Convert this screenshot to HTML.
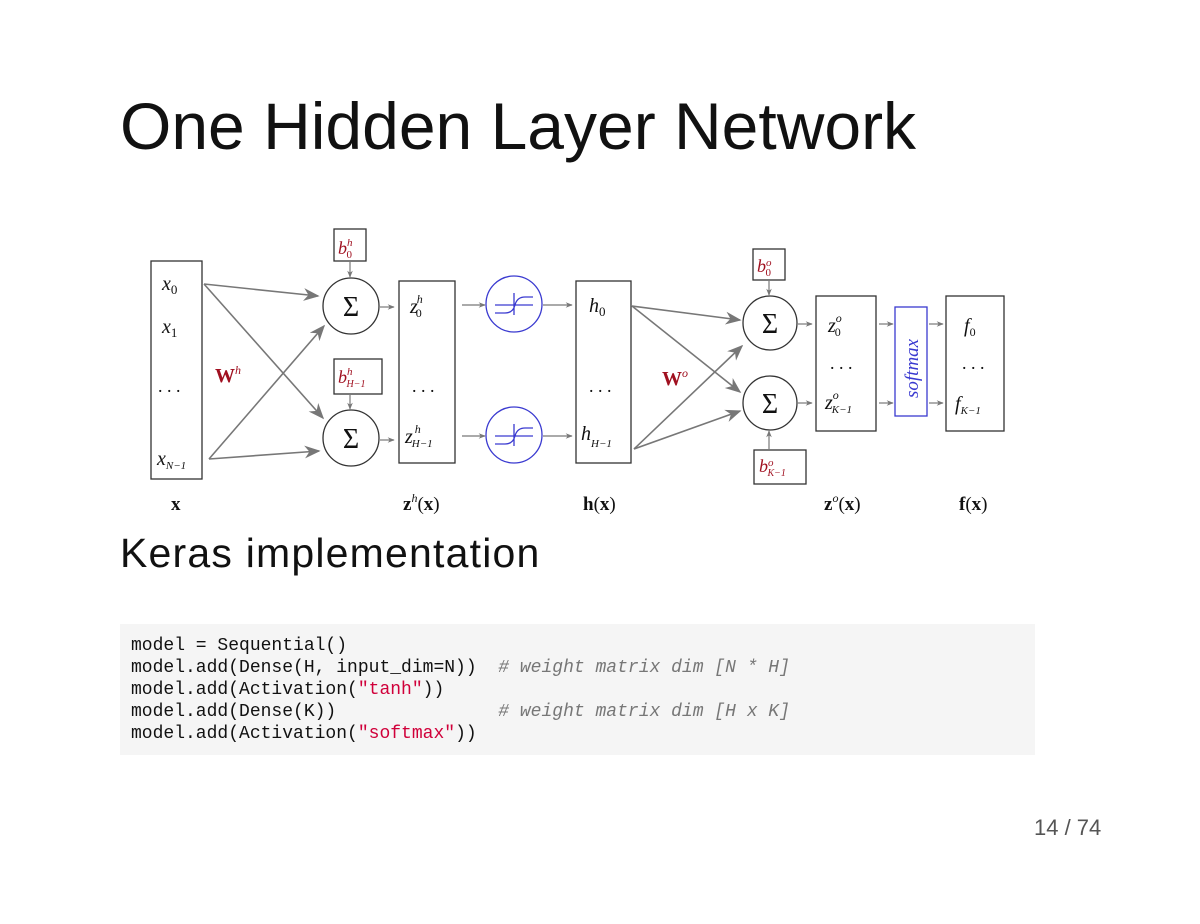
<!DOCTYPE html>
<html><head><meta charset="utf-8"><style>
body{margin:0;width:1200px;height:924px;background:#fff;position:relative;overflow:hidden;font-family:"Liberation Sans",sans-serif}
.t{position:absolute;left:120px;top:88px;font-size:66px;color:#111;letter-spacing:0px;white-space:nowrap}
.k{position:absolute;left:120px;top:530px;font-size:41px;color:#111;letter-spacing:1.2px;white-space:nowrap}
.code{position:absolute;left:120px;top:624px;width:915px;height:131px;background:#f5f5f5}
pre{margin:0;position:absolute;left:11px;top:11px;font-family:"Liberation Mono",monospace;font-size:18px;line-height:22px;color:#111}
.s{color:#d0003a}.c{color:#777;font-style:italic}
.pg{position:absolute;left:1034px;top:815px;font-size:22px;color:#555}
svg{position:absolute;left:0;top:0}
svg text{font-family:"Liberation Serif",serif}
</style></head><body>
<div class="t">One Hidden Layer Network</div>
<svg width="1200" height="924">
<defs>
<marker id="a2" viewBox="0 0 10 10" refX="9" refY="5" markerWidth="16" markerHeight="16" markerUnits="userSpaceOnUse" orient="auto"><path d="M0,1 L10,5 L0,9 L3,5z" fill="#777"/></marker>
<marker id="b" viewBox="0 0 10 10" refX="9" refY="5" markerWidth="7" markerHeight="7" markerUnits="userSpaceOnUse" orient="auto"><path d="M0,1 L10,5 L0,9 L3,5z" fill="#777"/></marker></defs>
<g fill="none" stroke="#333" stroke-width="1.3">
<rect x="151" y="261" width="51" height="218"/>
<rect x="334" y="229" width="32" height="32"/>
<rect x="334" y="359" width="48" height="35"/>
<circle cx="351" cy="306" r="28"/><circle cx="351" cy="438" r="28"/>
<rect x="399" y="281" width="56" height="182"/>
<rect x="576" y="281" width="55" height="182"/>
<rect x="753" y="249" width="32" height="31"/>
<rect x="754" y="450" width="52" height="34"/>
<circle cx="770" cy="323" r="27"/><circle cx="770" cy="403" r="27"/>
<rect x="816" y="296" width="60" height="135"/>
<rect x="946" y="296" width="58" height="135"/>
</g>
<g fill="none" stroke="#3a3ad0" stroke-width="1.3">
<circle cx="514" cy="304" r="28"/><circle cx="514" cy="435" r="28"/>
<rect x="895" y="307" width="32" height="109"/>
<path d="M495,313 h10 q8,0 10,-8 q2,-8 10,-8 h8 M495,305 h38 M514,293 v22"/>
<path d="M495,444 h10 q8,0 10,-8 q2,-8 10,-8 h8 M495,436 h38 M514,424 v22"/>
</g>
<g stroke="#777" stroke-width="1.6" fill="none" marker-end="url(#a2)">
<line x1="204" y1="284" x2="318" y2="296"/>
<line x1="204" y1="284" x2="323" y2="418"/>
<line x1="209" y1="459" x2="324" y2="326"/>
<line x1="209" y1="459" x2="319" y2="451"/>
<line x1="632" y1="306" x2="740" y2="320"/>
<line x1="632" y1="306" x2="740" y2="392"/>
<line x1="634" y1="449" x2="742" y2="346"/>
<line x1="634" y1="449" x2="740" y2="411"/>
</g>
<g stroke="#777" stroke-width="1.2" fill="none" marker-end="url(#b)">
<line x1="350" y1="262" x2="350" y2="277"/><line x1="350" y1="395" x2="350" y2="409"/>
<line x1="380" y1="307" x2="394" y2="307"/><line x1="380" y1="440" x2="394" y2="440"/>
<line x1="462" y1="305" x2="485" y2="305"/><line x1="462" y1="436" x2="485" y2="436"/>
<line x1="543" y1="305" x2="572" y2="305"/><line x1="543" y1="436" x2="572" y2="436"/>
<line x1="769" y1="281" x2="769" y2="295"/><line x1="769" y1="449" x2="769" y2="431"/>
<line x1="798" y1="324" x2="812" y2="324"/><line x1="798" y1="403" x2="812" y2="403"/>
<line x1="879" y1="324" x2="893" y2="324"/><line x1="879" y1="403" x2="893" y2="403"/>
<line x1="929" y1="324" x2="943" y2="324"/><line x1="929" y1="403" x2="943" y2="403"/>
</g>
<g font-size="20" fill="#111" font-style="italic">
<text x="162" y="290">x<tspan font-size="13" font-style="normal" dy="4">0</tspan></text>
<text x="162" y="333">x<tspan font-size="13" font-style="normal" dy="4">1</tspan></text>
<text x="157" y="465">x<tspan font-size="11" dy="4">N−1</tspan></text>
<text x="589" y="312">h<tspan font-size="13" font-style="normal" dy="4">0</tspan></text>
<text x="581" y="440">h<tspan font-size="11" dy="7">H−1</tspan></text>
<text x="410" y="313">z<tspan font-size="12" dx="-1" dy="-10">h</tspan><tspan font-size="12" font-style="normal" dx="-7" dy="14">0</tspan></text>
<text x="405" y="443">z<tspan font-size="12" dx="2" dy="-10">h</tspan><tspan font-size="11" dx="-9" dy="14">H−1</tspan></text>
<text x="828" y="332">z<tspan font-size="12" dy="-10">o</tspan><tspan font-size="12" font-style="normal" dx="-7" dy="14">0</tspan></text>
<text x="825" y="409">z<tspan font-size="12" dy="-10">o</tspan><tspan font-size="11" dx="-7" dy="14">K−1</tspan></text>
<text x="964" y="332">f<tspan font-size="12" font-style="normal" dy="4">0</tspan></text>
<text x="955" y="410">f<tspan font-size="11" dy="4">K−1</tspan></text>
</g>
<g font-size="18" fill="#111">
<text x="158" y="392">. . .</text><text x="412" y="392">. . .</text><text x="589" y="392">. . .</text>
<text x="830" y="369">. . .</text><text x="962" y="369">. . .</text>
</g>
<g font-size="28" fill="#111" text-anchor="middle">
<text x="351" y="316">Σ</text><text x="351" y="448">Σ</text>
<text x="770" y="333">Σ</text><text x="770" y="413">Σ</text>
</g>
<g fill="#a01020" font-style="italic">
<text x="338" y="254" font-size="18">b<tspan font-size="11" dy="-8">h</tspan><tspan font-size="11" font-style="normal" dx="-6" dy="12">0</tspan></text>
<text x="338" y="383" font-size="18">b<tspan font-size="11" dy="-8">h</tspan><tspan font-size="10" dx="-6" dy="12">H−1</tspan></text>
<text x="757" y="272" font-size="18">b<tspan font-size="11" dy="-6">o</tspan><tspan font-size="11" font-style="normal" dx="-6" dy="10">0</tspan></text>
<text x="759" y="472" font-size="18">b<tspan font-size="11" dy="-6">o</tspan><tspan font-size="10" dx="-6" dy="10">K−1</tspan></text>
<text x="215" y="382" font-size="20" font-weight="bold" font-style="normal">W<tspan font-size="12" font-style="italic" font-weight="normal" dy="-8">h</tspan></text>
<text x="662" y="385" font-size="20" font-weight="bold" font-style="normal">W<tspan font-size="12" font-style="italic" font-weight="normal" dy="-8">o</tspan></text>
</g>
<text x="0" y="0" font-size="19" font-style="italic" fill="#3a3ad0" transform="translate(918,398) rotate(-90)">softmax</text>
<g font-size="19" fill="#111">
<text x="171" y="510" font-weight="bold">x</text>
<text x="403" y="510"><tspan font-weight="bold">z</tspan><tspan font-size="12" font-style="italic" dy="-8">h</tspan><tspan dy="8">(</tspan><tspan font-weight="bold">x</tspan>)</text>
<text x="583" y="510"><tspan font-weight="bold">h</tspan>(<tspan font-weight="bold">x</tspan>)</text>
<text x="824" y="510"><tspan font-weight="bold">z</tspan><tspan font-size="12" font-style="italic" dy="-8">o</tspan><tspan dy="8">(</tspan><tspan font-weight="bold">x</tspan>)</text>
<text x="959" y="510"><tspan font-weight="bold">f</tspan>(<tspan font-weight="bold">x</tspan>)</text>
</g>
</svg>
<div class="k">Keras implementation</div>
<div class="code"><pre>model = Sequential()
model.add(Dense(H, input_dim=N))  <span class="c"># weight matrix dim [N * H]</span>
model.add(Activation(<span class="s">"tanh"</span>))
model.add(Dense(K))               <span class="c"># weight matrix dim [H x K]</span>
model.add(Activation(<span class="s">"softmax"</span>))</pre></div>
<div class="pg">14 / 74</div>
</body></html>
